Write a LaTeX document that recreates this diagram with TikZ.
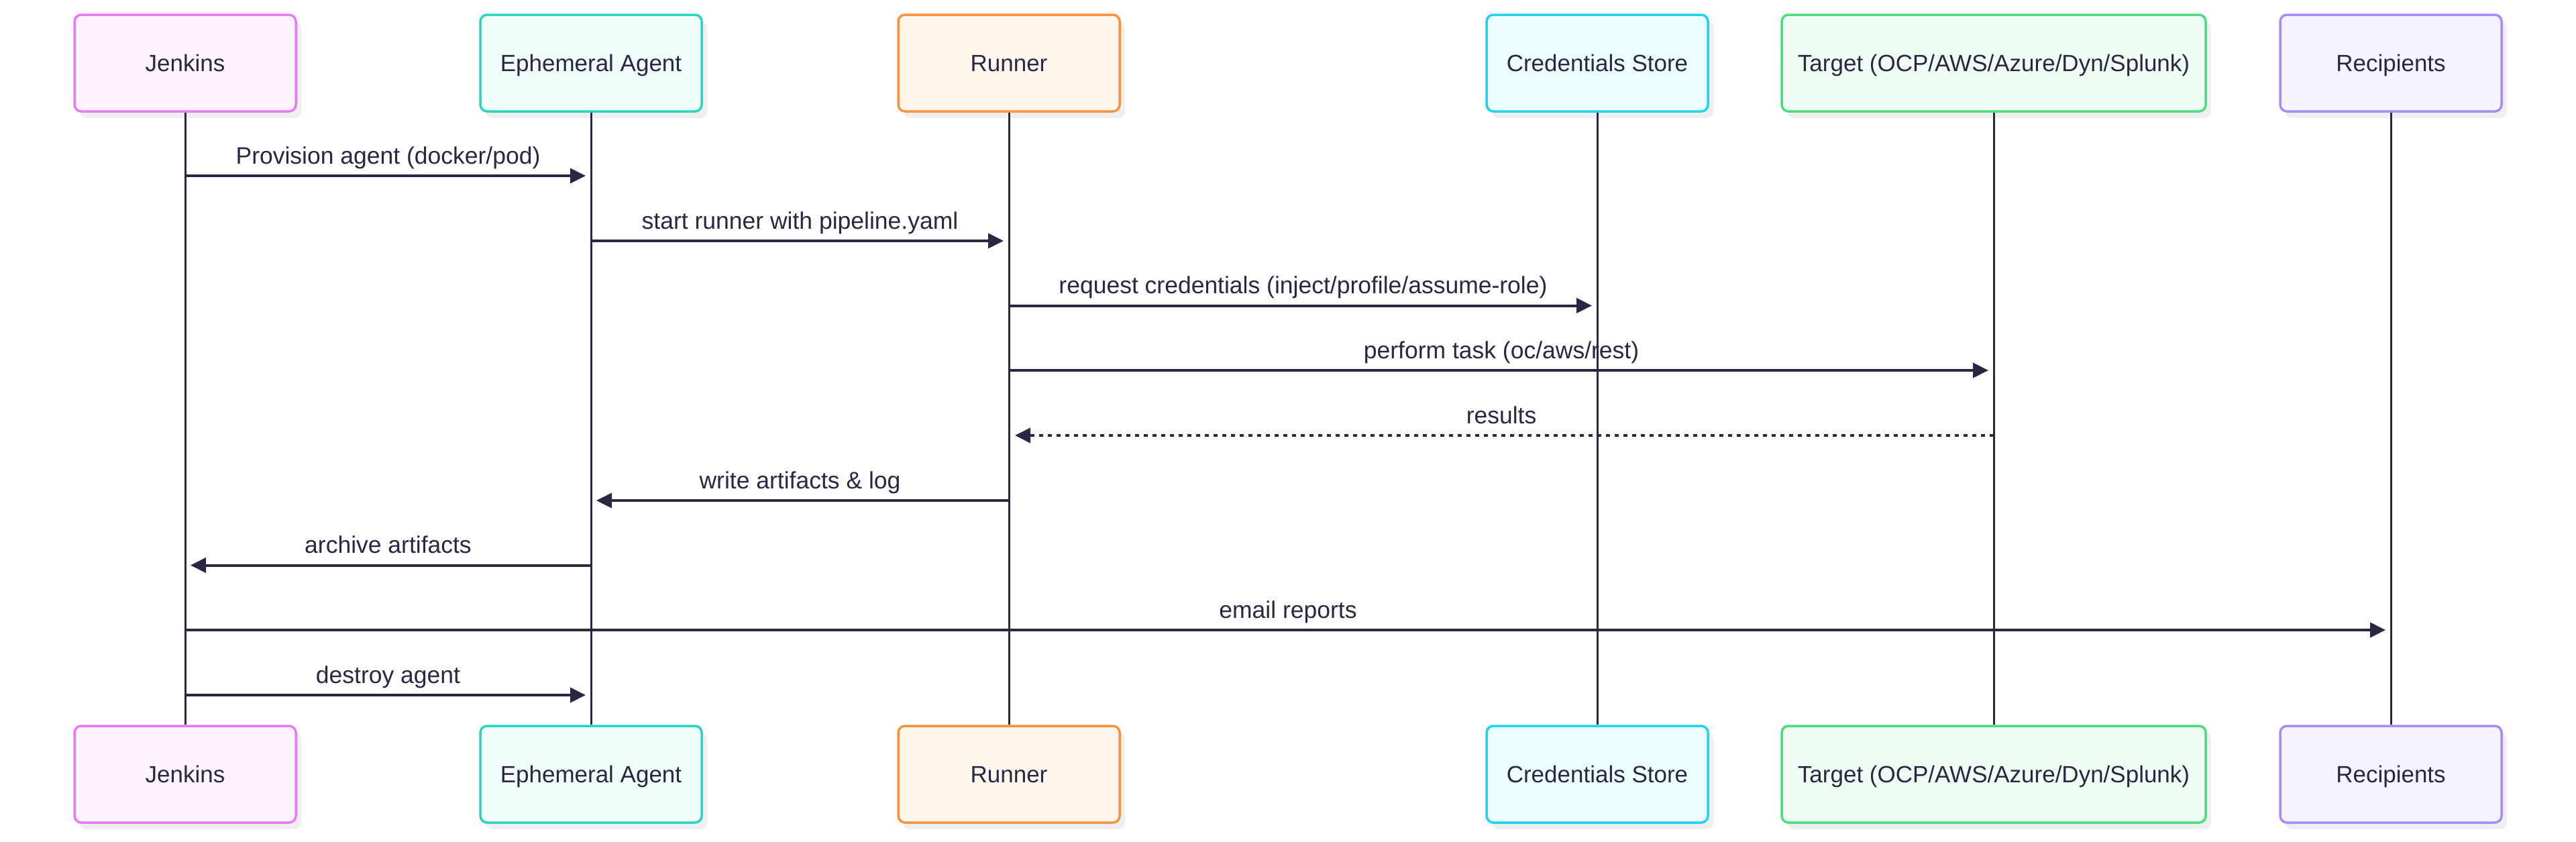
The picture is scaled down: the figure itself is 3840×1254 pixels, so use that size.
\documentclass[tikz,border=0pt]{standalone}
\usepackage{fontspec}
\setmainfont{Liberation Sans}
\usetikzlibrary{arrows.meta,shadows,calc}
\definecolor{ink}{HTML}{2A2742}
\definecolor{shadowgray}{HTML}{EFEFEF}
\definecolor{jenline}{HTML}{E879F9}\definecolor{jenfill}{HTML}{FDF4FF}
\definecolor{ageline}{HTML}{2DD4BF}\definecolor{agefill}{HTML}{F0FDFA}
\definecolor{runline}{HTML}{FB923C}\definecolor{runfill}{HTML}{FFF7ED}
\definecolor{credline}{HTML}{22D3EE}\definecolor{credfill}{HTML}{ECFEFF}
\definecolor{tgtline}{HTML}{4ADE80}\definecolor{tgtfill}{HTML}{F0FDF4}
\definecolor{recline}{HTML}{A78BFA}\definecolor{recfill}{HTML}{F5F3FF}
\begin{document}
\begin{tikzpicture}[x=1pt,y=-1pt,
  actorbox/.style={draw=#1line, fill=#1fill, line width=3.5pt, rounded corners=10pt,
    minimum height=144pt, minimum width=330pt, inner sep=0pt, text=ink,
    font=\fontsize{35}{42}\selectfont, text height=25pt, text depth=0pt,
    drop shadow={shadow xshift=8pt, shadow yshift=-10pt, fill=shadowgray, opacity=1}},
  lifeline/.style={draw=ink, line width=3pt},
  msg/.style={draw=ink, line width=4pt, -{Triangle[length=23pt,width=22pt]}},
  reply/.style={msg, dash pattern=on 6.5pt off 6.5pt},
  lbl/.style={text=ink, font=\fontsize{35.5}{42}\selectfont, anchor=base, inner sep=0pt}
]
\useasboundingbox (0,0) rectangle (3840,1254);
\fill[white] (0,0) rectangle (3840,1254);

% actors (top)
\node[actorbox=jen] (jenT) at (276,94) {Jenkins};
\node[actorbox=age] (ageT) at (881,94) {Ephemeral Agent};
\node[actorbox=run] (runT) at (1504,94) {Runner};
\node[actorbox=cred] (credT) at (2381,94) {Credentials Store};
\node[actorbox=tgt, minimum width=632pt] (tgtT) at (2972,94) {Target (OCP/AWS/Azure/Dyn/Splunk)};
\node[actorbox=rec] (recT) at (3564,94) {Recipients};
% actors (bottom)
\node[actorbox=jen] (jenB) at (276,1154) {Jenkins};
\node[actorbox=age] (ageB) at (881,1154) {Ephemeral Agent};
\node[actorbox=run] (runB) at (1504,1154) {Runner};
\node[actorbox=cred] (credB) at (2381,1154) {Credentials Store};
\node[actorbox=tgt, minimum width=632pt] (tgtB) at (2972,1154) {Target (OCP/AWS/Azure/Dyn/Splunk)};
\node[actorbox=rec] (recB) at (3564,1154) {Recipients};

% lifelines
\draw[lifeline] (jenT.south) -- (jenB.north);
\draw[lifeline] (ageT.south) -- (ageB.north);
\draw[lifeline] (runT.south) -- (runB.north);
\draw[lifeline] (credT.south) -- (credB.north);
\draw[lifeline] (tgtT.south) -- (tgtB.north);
\draw[lifeline] (recT.south) -- (recB.north);

% message rows
\coordinate (y1) at (0,262);
\coordinate (y2) at (0,359);
\coordinate (y3) at (0,455.5);
\coordinate (y4) at (0,552);
\coordinate (y5) at (0,649);
\coordinate (y6) at (0,746);
\coordinate (y7) at (0,842.5);
\coordinate (y8) at (0,939);
\coordinate (y9) at (0,1036);

% messages
\draw[msg] (jenT |- y1) -- ([xshift=-8pt]ageT |- y1);
\node[lbl] (l1) at ($(jenT |- y1)!0.5!(ageT |- y1) + (0,-18)$) {Provision agent (docker/pod)};

\draw[msg] (ageT |- y2) -- ([xshift=-8pt]runT |- y2);
\node[lbl] (l2) at ($(ageT |- y2)!0.5!(runT |- y2) + (0,-18)$) {start runner with pipeline.yaml};

\draw[msg] (runT |- y3) -- ([xshift=-8pt]credT |- y3);
\node[lbl] (l3) at ($(runT |- y3)!0.5!(credT |- y3) + (0,-18)$) {request credentials (inject/profile/assume-role)};

\draw[msg] (runT |- y4) -- ([xshift=-8pt]tgtT |- y4);
\node[lbl] (l4) at ($(runT |- y4)!0.5!(tgtT |- y4) + (0,-18)$) {perform task (oc/aws/rest)};

\draw[reply] (tgtT |- y5) -- ([xshift=9pt]runT |- y5);
\node[lbl] (l5) at ($(runT |- y5)!0.5!(tgtT |- y5) + (0,-18)$) {results};

\draw[msg] (runT |- y6) -- ([xshift=8pt]ageT |- y6);
\node[lbl] (l6) at ($(ageT |- y6)!0.5!(runT |- y6) + (0,-18)$) {write artifacts \& log};

\draw[msg] (ageT |- y7) -- ([xshift=8pt]jenT |- y7);
\node[lbl] (l7) at ($(jenT |- y7)!0.5!(ageT |- y7) + (0,-18)$) {archive artifacts};

\draw[msg] (jenT |- y8) -- ([xshift=-8pt]recT |- y8);
\node[lbl] (l8) at ($(jenT |- y8)!0.5!(recT |- y8) + (0,-18)$) {email reports};

\draw[msg] (jenT |- y9) -- ([xshift=-8pt]ageT |- y9);
\node[lbl] (l9) at ($(jenT |- y9)!0.5!(ageT |- y9) + (0,-18)$) {destroy agent};
\end{tikzpicture}
\end{document}
